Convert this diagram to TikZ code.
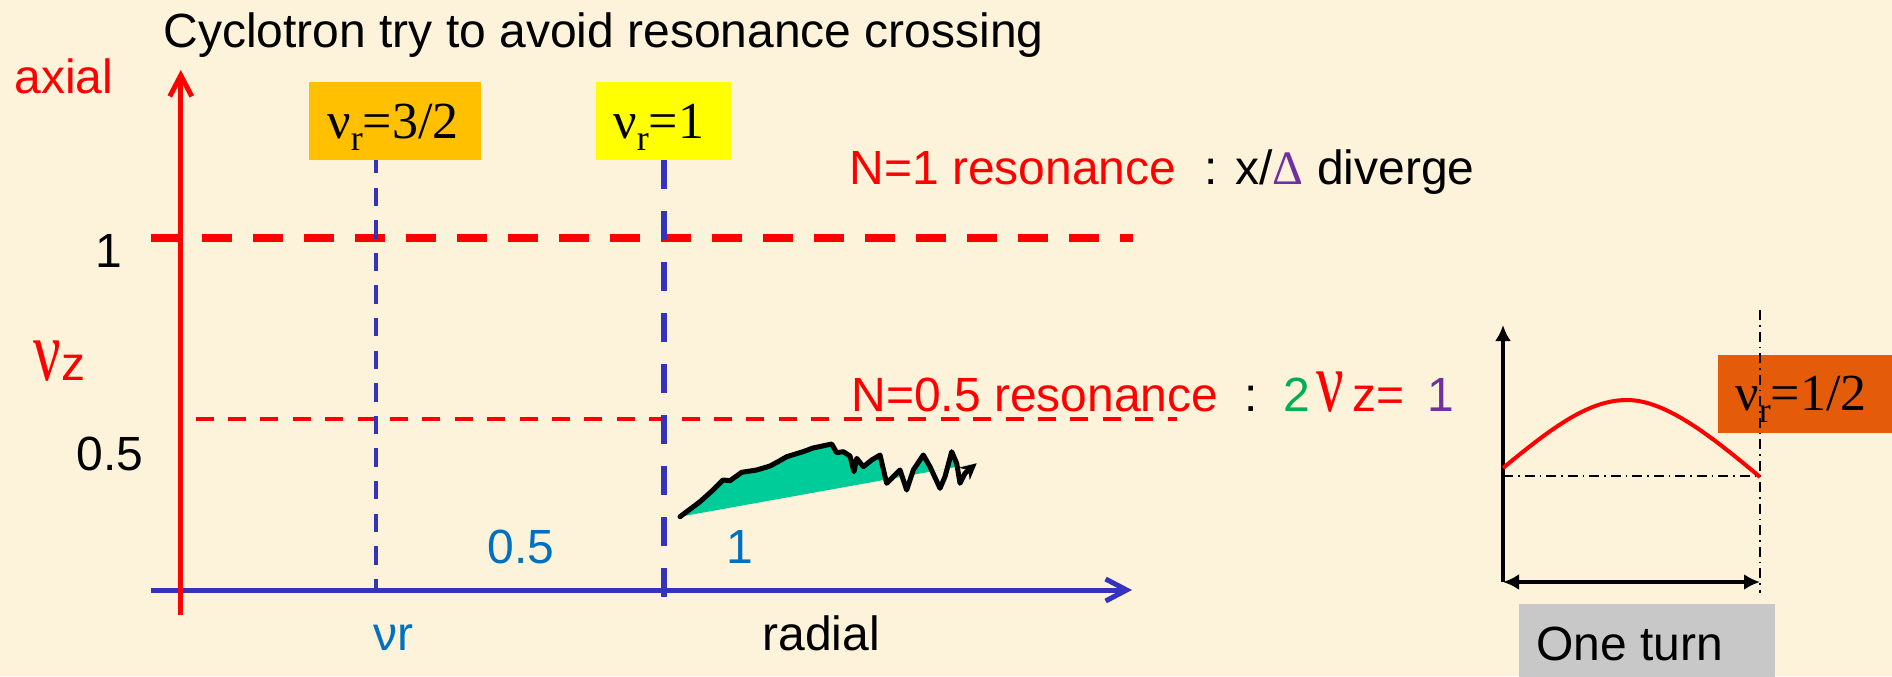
\documentclass[tikz,border=0pt]{standalone}
\usepackage{fontspec}
\setmainfont{Liberation Sans}
\newfontfamily\tms{Liberation Serif}
\usetikzlibrary{arrows.meta}
\definecolor{bgcream}{RGB}{253,242,218}
\definecolor{axblue}{RGB}{51,51,187}
\definecolor{lblue}{RGB}{0,112,192}
\definecolor{tgreen}{RGB}{0,176,80}
\definecolor{tpurple}{RGB}{112,48,160}
\definecolor{boxorange}{RGB}{255,192,0}
\definecolor{boxyellow}{RGB}{255,255,0}
\definecolor{boxdark}{RGB}{228,92,10}
\definecolor{boxgray}{RGB}{200,200,200}
\definecolor{fillgreen}{RGB}{0,204,153}
\newcommand{\nurlabel}[1]{{\tms\fontsize{26pt}{28pt}\selectfont ν\raisebox{-6pt}{\fontsize{18pt}{18pt}\selectfont r}=#1}}
\newcommand{\bignu}{{\tms\fontsize{36pt}{38pt}\selectfont\scalebox{0.85}[1.2]{ν}}}
\begin{document}
\begin{tikzpicture}[x=0.5pt,y=-0.5pt,
  txt/.style={inner sep=0pt,anchor=base west,font=\fontsize{24pt}{28pt}\selectfont},
  axisline/.style={line width=2.5pt,-{Straight Barb[length=10.5pt,width=11pt]}},
  thickreddash/.style={red,line width=3.75pt,dash pattern=on 15pt off 10.5pt},
  thinreddash/.style={red,line width=2pt,dash pattern=on 9pt off 7.2pt},
  thinbluedash/.style={axblue,line width=2.2pt,dash pattern=on 9.15pt off 7.15pt,dash phase=2.5pt},
  thickbluedash/.style={axblue,line width=3.2pt,dash pattern=on 14.5pt off 11pt},
  tagbox/.style={inner sep=0pt,minimum height=39pt},
  dashdot/.style={black,line width=0.75pt,dash pattern=on 5pt off 2.5pt on 0.75pt off 2.5pt},
  insetarrow/.style={line width=1.75pt},
  beamline/.style={black,line width=2.5pt,line join=round,line cap=round,-{Stealth[length=8pt,width=8pt]}}
]
% background
\fill[bgcream] (0,0) rectangle (1892,676);
\useasboundingbox (0,0) rectangle (1892,676);

% coordinates
\coordinate (redbot) at (180.8,615);
\coordinate (redtop) at (180.8,70);
\coordinate (blueleft) at (151,590);
\coordinate (blueright) at (1132,590);
\coordinate (r1l) at (151,238);
\coordinate (r1r) at (1133,238);
\coordinate (r05l) at (195.5,419);
\coordinate (r05r) at (1177,419);
\coordinate (v32top) at (376,160);
\coordinate (v32bot) at (376,588.3);
\coordinate (v1top) at (664,160);
\coordinate (v1bot) at (664,598);

% resonance lines
\draw[thickreddash] (r1l) -- (r1r);
\draw[thinreddash] (r05l) -- (r05r);
\draw[thinbluedash] (v32top) -- (v32bot);
\draw[thickbluedash] (v1top) -- (v1bot);

% axes
\draw[axisline,axblue] (blueleft) -- (blueright);
\draw[axisline,red] (redbot) -- (redtop);

% tag boxes
\node[tagbox,fill=boxorange,minimum width=86pt] (box32) at (395,121) {};
\node[tagbox,fill=boxyellow,minimum width=67.5pt] (box1) at (663.5,120.5) {};
\node[txt] (t32) at (327,138) {\nurlabel{3/2}};
\node[txt] (t1) at (613,138) {\nurlabel{1}};

% texts
\node[txt] (title) at (163,47) {Cyclotron try to avoid resonance crossing};
\node[txt,red] (axial) at (14,93) {axial};
\node[txt] (v1) at (95,267) {1};
\node[txt] (v05) at (76,470) {0.5};
\node[txt,red] (nuz) at (33,380) {\bignu z};
\node[txt,lblue] (h05) at (487,563) {0.5};
\node[txt,lblue] (h1) at (726,563) {1};
\node[txt,lblue] (nur) at (373,650) {νr};
\node[txt] (radial) at (762,650) {radial};
\node[txt,red] (n1) at (849,184) {N=1 resonance};
\node[txt] (d1) at (1204,184) {: x/{\tms\color{tpurple}Δ} diverge};
\node[txt,red] (n05) at (851,411.7) {N=0.5 resonance};
\node[txt] (colon) at (1244,411.7) {:};
\node[txt,tgreen] (two) at (1283,411.7) {2};
\node[txt,red] (bnu) at (1316,411.7) {\bignu};
\node[txt,red] (zeq) at (1352,411.7) {z=};
\node[txt,tpurple] (one) at (1427,411.7) {1};

% green wiggly beam
\begin{scope}
\clip (680,516.7) -- (976.7,463.3) -- (976.7,430) -- (680,430) -- cycle;
\fill[fillgreen] (680,516.7) -- (700,501.7) -- (713,490) -- (723,480) -- (730,480.7) -- (741.7,472.3) -- (756.7,470) -- (770,466) -- (778,461.7) -- (786.7,456.7) -- (803,451.7) -- (813,448) -- (831.7,444) -- (836.7,452.7) -- (843.3,451.7) -- (850,456) -- (854,471.7) -- (856.7,458.3) -- (863.3,466.7) -- (871.7,460) -- (880,455) -- (886.7,483.3) -- (893.3,476.7) -- (900,470) -- (906.7,490) -- (913.3,470) -- (923.3,455) -- (930,466.7) -- (940,488.3) -- (945,476.7) -- (951.7,451.7) -- (956.7,463.3) -- (960,483.3) -- (965,473.3) -- (976.7,463.3) -- cycle;
\end{scope}
\coordinate (beamstart) at (680,516.7);
\coordinate (beamend) at (976.7,463.3);
\draw[beamline] (beamstart) -- (700,501.7) -- (713,490) -- (723,480) -- (730,480.7) -- (741.7,472.3) -- (756.7,470) -- (770,466) -- (778,461.7) -- (786.7,456.7) -- (803,451.7) -- (813,448) -- (831.7,444) -- (836.7,452.7) -- (843.3,451.7) -- (850,456) -- (854,471.7) -- (856.7,458.3) -- (863.3,466.7) -- (871.7,460) -- (880,455) -- (886.7,483.3) -- (893.3,476.7) -- (900,470) -- (906.7,490) -- (913.3,470) -- (923.3,455) -- (930,466.7) -- (940,488.3) -- (945,476.7) -- (951.7,451.7) -- (956.7,463.3) -- (960,483.3) -- (965,473.3) -- (beamend);

% inset
\coordinate (io) at (1503,582);
\coordinate (itop) at (1503,325);
\coordinate (iend) at (1760,582);
\coordinate (dvtop) at (1760,310);
\coordinate (dvbot) at (1760,593);
\coordinate (dhl) at (1503,476);
\coordinate (dhr) at (1760,476);
\node[tagbox,fill=boxdark,minimum width=87pt] (boxhalf) at (1805,394) {};
\node[inner sep=0pt,fill=boxgray,minimum width=128pt,minimum height=38pt] (boxturn) at (1647,642) {};
\draw[dashdot] (dvtop) -- (dvbot);
\draw[dashdot] (dhl) -- (dhr);
\draw[insetarrow,-{Latex[length=8pt,width=8pt]}] (io) -- (itop);
\draw[insetarrow,{Latex[length=8pt,width=8pt]}-{Latex[length=8pt,width=8pt]}] (io) -- (iend);
\draw[red,line width=2pt] (1503,468) .. controls (1555,425) and (1590,400) .. (1627,400) .. controls (1665,400) and (1710,435) .. (1760,477);
\node[txt] (thalf) at (1735,410) {\nurlabel{1/2}};
\node[txt] (oneturn) at (1536,660) {One turn};
\end{tikzpicture}
\end{document}
